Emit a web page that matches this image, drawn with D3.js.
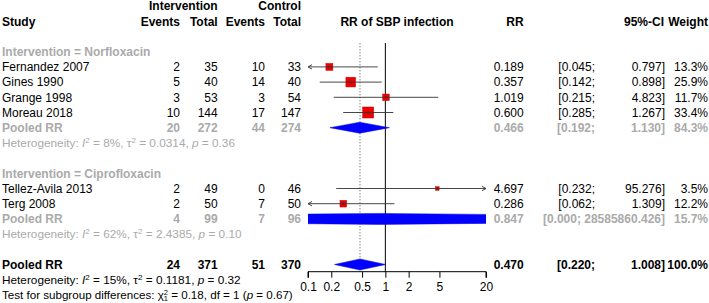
<!DOCTYPE html>
<html>
<head>
<meta charset="utf-8">
<script src="https://cdn.jsdelivr.net/npm/d3@7"></script>
<style>
  html, body { margin: 0; padding: 0; background: #fff; }
  svg { display: block; font-family: "Liberation Sans", Arial, Helvetica, sans-serif; font-size: 12px; }
</style>
</head>
<body>
<svg id="chart" width="709" height="303"></svg>
<script>
// ---- data ----
const studies   = ["Fernandez 2007", "Gines 1990", "Grange 1998", "Moreau 2018", "Tellez-Avila 2013", "Terg 2008"];
const studyGroup = [0, 0, 0, 0, 1, 1];
const evInt     = [2, 5, 3, 10, 2, 2];
const totInt    = [35, 40, 53, 144, 49, 50];
const evCtl     = [10, 14, 3, 17, 0, 7];
const totCtl    = [33, 40, 54, 147, 46, 50];
const rr        = [0.189, 0.357, 1.019, 0.600, 4.697, 0.286];
const ciLow     = [0.045, 0.142, 0.215, 0.285, 0.232, 0.062];
const ciHigh    = [0.797, 0.898, 4.823, 1.267, 95.276, 1.309];
const weight    = [13.3, 25.9, 11.7, 33.4, 3.5, 12.2];

const groups      = ["Norfloxacin", "Ciprofloxacin"];
const grpEvInt    = [20, 4];
const grpTotInt   = [272, 99];
const grpEvCtl    = [44, 7];
const grpTotCtl   = [274, 96];
const grpRR       = [0.466, 0.847];
const grpLow      = [0.192, 0.0000000251];
const grpHigh     = [1.130, 28585860.426];
const grpWeight   = [84.3, 15.7];
const grpI2       = ["8%", "62%"];
const grpTau2     = ["0.0314", "2.4385"];
const grpP        = ["0.36", "0.10"];

const overall = { evInt: 24, totInt: 371, evCtl: 51, totCtl: 370, rr: 0.470, low: 0.220, high: 1.008, weight: 100.0,
                  I2: "15%", tau2: "0.1181", p: "0.32" };
const subgroupTest = { chi2: "0.18", df: "1", p: "0.67" };

const tickValues = [0.1, 0.2, 0.5, 1, 2, 5, 20];
const tickLabels = ["0.1", "0.2", "0.5", "1", "2", "5", "20"];

// ---- layout ----
const svg = d3.select("#chart");
const GREY = "#aaaaaa";
const x = d3.scaleLog().domain([0.1, 20]).range([308, 486]);
const row = d3.scaleLinear().domain([0, 16]).range([51.7, 294.9]);
const sqSize = d3.scaleSqrt().domain([0, 33.4]).range([0, 11]);
const DIAM_H = 11;
const plotTop = 43, axisY = 271.7;

const col = { study: 2, evI: 180, totI: 217.7, evC: 265, totC: 301, rr: 523.7, ciL: 595, ciH: 665, w: 708 };

function txt(xp, yi, s, opts = {}) {
  return svg.append("text")
    .attr("x", xp).attr("y", row(yi)).attr("dy", "0.36em")
    .attr("text-anchor", opts.anchor || "end")
    .attr("font-weight", opts.bold ? "bold" : null)
    .attr("fill", opts.color || "#000")
    .text(s);
}
const f3 = d3.format(".3f"), f1 = d3.format(".1f");

// headers
txt(col.totI, -3, "Intervention", { bold: true });
txt(col.totC, -3, "Control", { bold: true });
txt(col.study, -2, "Study", { bold: true, anchor: "start" });
txt(col.evI, -2, "Events", { bold: true });
txt(col.totI, -2, "Total", { bold: true });
txt(col.evC, -2, "Events", { bold: true });
txt(col.totC, -2, "Total", { bold: true });
txt((x.range()[0] + x.range()[1]) / 2, -2, "RR of SBP infection", { bold: true, anchor: "middle" });
txt(col.rr, -2, "RR", { bold: true });
txt(col.ciH - 1, -2, "95%-CI", { bold: true });
txt(col.w, -2, "Weight", { bold: true });

// reference lines
svg.append("line").attr("x1", x(1)).attr("x2", x(1)).attr("y1", plotTop).attr("y2", axisY)
  .attr("stroke", "#000").attr("stroke-width", 1);
svg.append("line").attr("x1", x(overall.rr)).attr("x2", x(overall.rr)).attr("y1", plotTop).attr("y2", axisY)
  .attr("stroke", "#888").attr("stroke-width", 1).attr("stroke-dasharray", "1.5,1.5");

// clip for plot
svg.append("clipPath").attr("id", "plotclip").append("rect")
  .attr("x", x.range()[0]).attr("y", 0).attr("width", x.range()[1] - x.range()[0]).attr("height", 303);

function numberCols(yi, a, b, c, d, color, bold) {
  txt(col.evI, yi, a, { color, bold });
  txt(col.totI, yi, b, { color, bold });
  txt(col.evC, yi, c, { color, bold });
  txt(col.totC, yi, d, { color, bold });
}
function statCols(yi, est, lo, hi, w, color, bold, loStr) {
  txt(col.rr, yi, f3(est), { color, bold });
  const hiStr = f3(hi) + "]";
  const loS = "[" + (loStr || f3(lo)) + ";";
  if (hiStr.length > 9) {
    txt(col.ciH, yi, loS + " " + hiStr, { color, bold });
  } else {
    txt(col.ciL, yi, loS, { color, bold });
    txt(col.ciH, yi, hiStr, { color, bold });
  }
  txt(col.w, yi, f1(w) + "%", { color, bold });
}
function hetText(yi, I2, tau2, p, color) {
  const t = svg.append("text").attr("x", col.study).attr("y", row(yi)).attr("dy", "0.36em")
    .attr("fill", color).attr("font-size", "11.8px");
  t.append("tspan").text("Heterogeneity: ");
  t.append("tspan").attr("font-style", "italic").text("I");
  t.append("tspan").attr("font-size", "8px").attr("dy", "-4").text("2");
  t.append("tspan").attr("dy", "4").text(" = " + I2 + ", \u03c4");
  t.append("tspan").attr("font-size", "8px").attr("dy", "-4").text("2");
  t.append("tspan").attr("dy", "4").text(" = " + tau2 + ", ");
  t.append("tspan").attr("font-style", "italic").text("p");
  t.append("tspan").text(" = " + p);
}
function diamond(yi, est, lo, hi) {
  const yc = row(yi);
  const pts = [[x(lo), yc], [x(est), yc - DIAM_H / 2], [x(hi), yc], [x(est), yc + DIAM_H / 2]];
  svg.append("polygon").attr("points", pts.map(p => p.join(",")).join(" "))
    .attr("fill", "#0000ff").attr("stroke", "#0000dd").attr("stroke-width", 0.5)
    .attr("clip-path", "url(#plotclip)");
}
function arrowHead(xp, yp, dir) {
  svg.append("path")
    .attr("d", `M${xp + dir * 4},${yp - 2.2} L${xp},${yp} L${xp + dir * 4},${yp + 2.2}`)
    .attr("fill", "none").attr("stroke", "#333").attr("stroke-width", 0.9);
}

// row positions
const studyRow = [1, 2, 3, 4, 9, 10];
const groupHeadRow = [0, 8], groupPoolRow = [5, 11], groupHetRow = [6, 12];

groups.forEach((g, gi) => {
  txt(col.study, groupHeadRow[gi], "Intervention = " + g, { bold: true, anchor: "start", color: GREY });
  txt(col.study, groupPoolRow[gi], "Pooled RR", { bold: true, anchor: "start", color: GREY });
  numberCols(groupPoolRow[gi], grpEvInt[gi], grpTotInt[gi], grpEvCtl[gi], grpTotCtl[gi], GREY, true);
  statCols(groupPoolRow[gi], grpRR[gi], grpLow[gi], grpHigh[gi], grpWeight[gi], GREY, true, gi === 1 ? "0.000" : null);
  hetText(groupHetRow[gi], grpI2[gi], grpTau2[gi], grpP[gi], GREY);
  diamond(groupPoolRow[gi], grpRR[gi], grpLow[gi], grpHigh[gi]);
});

studies.forEach((s, i) => {
  const yi = studyRow[i], yc = row(yi);
  txt(col.study, yi, s, { anchor: "start" });
  numberCols(yi, evInt[i], totInt[i], evCtl[i], totCtl[i], "#000", false);
  statCols(yi, rr[i], ciLow[i], ciHigh[i], weight[i], "#000", false);
  const [dmin, dmax] = x.domain();
  const x1 = x(Math.max(ciLow[i], dmin)), x2 = x(Math.min(ciHigh[i], dmax));
  const sz = sqSize(weight[i]);
  svg.append("rect").attr("x", x(rr[i]) - sz / 2).attr("y", yc - sz / 2).attr("width", sz).attr("height", sz)
    .attr("fill", "#ee0000").attr("stroke", "#cc0000").attr("stroke-width", 0.5);
  svg.append("line").attr("x1", x1).attr("x2", x2).attr("y1", yc).attr("y2", yc)
    .attr("stroke", "#333").attr("stroke-width", 0.9);
  svg.append("line").attr("x1", x(rr[i])).attr("x2", x(rr[i])).attr("y1", yc - 1.5).attr("y2", yc + 1.5)
    .attr("stroke", "#333").attr("stroke-width", 0.7);
  if (ciLow[i] < dmin) arrowHead(x1, yc, 1);
  if (ciHigh[i] > dmax) arrowHead(x2, yc, -1);
});

// overall
txt(col.study, 14, "Pooled RR", { bold: true, anchor: "start" });
numberCols(14, overall.evInt, overall.totInt, overall.evCtl, overall.totCtl, "#000", true);
statCols(14, overall.rr, overall.low, overall.high, overall.weight, "#000", true);
diamond(14, overall.rr, overall.low, overall.high);
hetText(15, overall.I2, overall.tau2, overall.p, "#000");

// subgroup test
{
  const t = svg.append("text").attr("x", col.study).attr("y", row(16)).attr("dy", "0.36em")
    .attr("fill", "#000").attr("font-size", "11.6px");
  t.append("tspan").text("Test for subgroup differences: \u03c7");
  t.append("tspan").attr("font-size", "7.5px").attr("dy", "-4").text("2");
  t.append("tspan").attr("font-size", "7.5px").attr("dx", "-4.2").attr("dy", "6").text(subgroupTest.df);
  t.append("tspan").attr("dy", "-2").text(" = " + subgroupTest.chi2 + ", df = " + subgroupTest.df + " (");
  t.append("tspan").attr("font-style", "italic").text("p");
  t.append("tspan").text(" = " + subgroupTest.p + ")");
}

// axis
const axis = d3.axisBottom(x).tickValues(tickValues).tickFormat((d, i) => tickLabels[i]).tickSize(6).tickPadding(5);
const ag = svg.append("g").attr("transform", `translate(0,${axisY})`).call(axis);
ag.select(".domain").attr("stroke", "#000");
ag.selectAll(".tick line").attr("stroke", "#000");
ag.selectAll(".tick text").attr("font-size", "12px").attr("font-family", "Liberation Sans, Arial, sans-serif").attr("fill", "#000");
ag.select(".domain").attr("d", `M${x.range()[0]},6V0H${x.range()[1]}V6`);
</script>
</body>
</html>
